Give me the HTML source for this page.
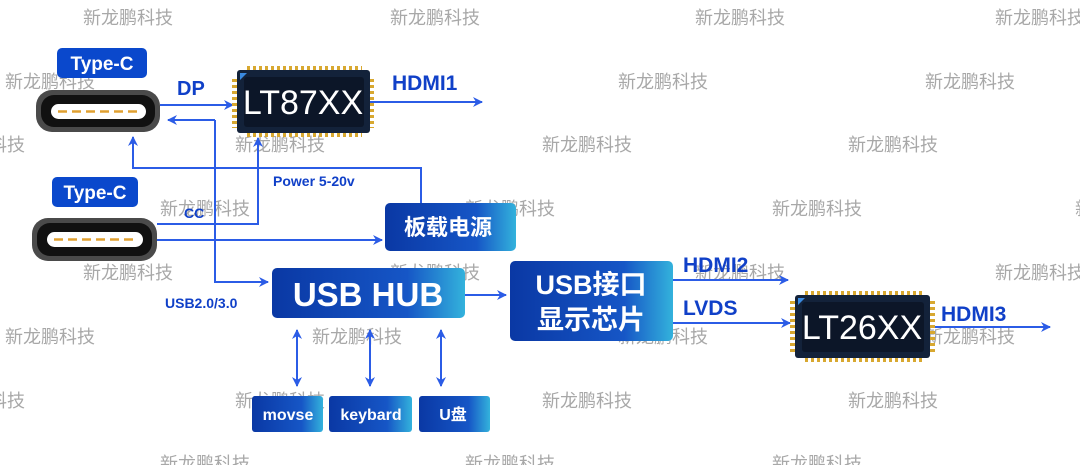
<!DOCTYPE html>
<html><head><meta charset="utf-8"><style>
html,body{margin:0;padding:0;background:#fff;}
svg{display:block;}
.wm{font-family:"Liberation Sans","Noto Sans CJK SC",sans-serif;font-size:18px;fill:#a8a8a8;text-anchor:middle;}
.bl{font-family:"Liberation Sans","Noto Sans CJK SC",sans-serif;font-weight:bold;fill:#1040c8;}
.wt{font-family:"Liberation Sans","Noto Sans CJK SC",sans-serif;font-weight:bold;fill:#fff;text-anchor:middle;}
</style></head><body>
<svg width="1080" height="465" viewBox="0 0 1080 465" xmlns="http://www.w3.org/2000/svg">
<defs>
<linearGradient id="g" x1="0" y1="0" x2="1" y2="0">
<stop offset="0" stop-color="#0a38a4"/><stop offset="0.7" stop-color="#1656c6"/><stop offset="1" stop-color="#33b2dc"/>
</linearGradient>
<marker id="a" markerWidth="10" markerHeight="10" refX="9" refY="5" orient="auto" markerUnits="userSpaceOnUse">
<path d="M0,0 L10,5 L0,10 L3,5 Z" fill="#2b5ce6"/></marker>
<marker id="as" markerWidth="10" markerHeight="10" refX="1" refY="5" orient="auto" markerUnits="userSpaceOnUse">
<path d="M10,0 L0,5 L10,10 L7,5 Z" fill="#2b5ce6"/></marker>
<pattern id="pins" width="6" height="6" patternUnits="userSpaceOnUse"><rect x="1" y="0" width="3" height="6" fill="#d8a830"/></pattern>
<pattern id="pinsv" width="6" height="6" patternUnits="userSpaceOnUse"><rect x="0" y="1" width="6" height="3" fill="#d8a830"/></pattern>
</defs>

<!-- watermarks -->
<g class="wm">
<text x="128" y="24">新龙鹏科技</text><text x="435" y="24">新龙鹏科技</text><text x="740" y="24">新龙鹏科技</text><text x="1040" y="24">新龙鹏科技</text>
<text x="50" y="88">新龙鹏科技</text><text x="663" y="88">新龙鹏科技</text><text x="970" y="88">新龙鹏科技</text>
<text x="-20" y="151">新龙鹏科技</text><text x="280" y="151">新龙鹏科技</text><text x="587" y="151">新龙鹏科技</text><text x="893" y="151">新龙鹏科技</text>
<text x="205" y="215">新龙鹏科技</text><text x="510" y="215">新龙鹏科技</text><text x="817" y="215">新龙鹏科技</text><text x="1120" y="215">新龙鹏科技</text>
<text x="128" y="279">新龙鹏科技</text><text x="435" y="279">新龙鹏科技</text><text x="740" y="279">新龙鹏科技</text><text x="1040" y="279">新龙鹏科技</text>
<text x="50" y="343">新龙鹏科技</text><text x="357" y="343">新龙鹏科技</text><text x="663" y="343">新龙鹏科技</text><text x="970" y="343">新龙鹏科技</text>
<text x="-20" y="407">新龙鹏科技</text><text x="280" y="407">新龙鹏科技</text><text x="587" y="407">新龙鹏科技</text><text x="893" y="407">新龙鹏科技</text>
<text x="205" y="470">新龙鹏科技</text><text x="510" y="470">新龙鹏科技</text><text x="817" y="470">新龙鹏科技</text>
</g>

<!-- connectors lines -->
<g stroke="#2b5ce6" stroke-width="2" fill="none">
<line x1="160" y1="105" x2="233" y2="105" marker-end="url(#a)"/>
<line x1="370" y1="102" x2="482" y2="102" marker-end="url(#a)"/>
<polyline points="215,120 215,282 268,282" marker-end="url(#a)"/>
<line x1="215" y1="120" x2="168" y2="120" marker-end="url(#a)"/>
<polyline points="421,203 421,168 133,168 133,137" marker-end="url(#a)"/>
<polyline points="157,224 258,224 258,138" marker-end="url(#a)"/>
<line x1="157" y1="240" x2="382" y2="240" marker-end="url(#a)"/>
<line x1="465" y1="295" x2="506" y2="295" marker-end="url(#a)"/>
<line x1="673" y1="280" x2="788" y2="280" marker-end="url(#a)"/>
<line x1="673" y1="323" x2="790" y2="323" marker-end="url(#a)"/>
<line x1="930" y1="327" x2="1050" y2="327" marker-end="url(#a)"/>
<line x1="297" y1="330" x2="297" y2="386" marker-start="url(#as)" marker-end="url(#a)"/>
<line x1="370" y1="330" x2="370" y2="386" marker-start="url(#as)" marker-end="url(#a)"/>
<line x1="441" y1="330" x2="441" y2="386" marker-start="url(#as)" marker-end="url(#a)"/>
</g>

<!-- Type-C labels -->
<rect x="57" y="48" width="90" height="30" rx="5" fill="#0a48cc"/>
<text class="wt" x="102" y="70" font-size="19">Type-C</text>
<rect x="52" y="177" width="86" height="30" rx="5" fill="#0a48cc"/>
<text class="wt" x="95" y="199" font-size="19">Type-C</text>

<!-- Connectors -->
<g>
<rect x="36" y="90" width="124" height="42" rx="16" fill="#4a4a4a"/>
<rect x="41" y="95" width="114" height="32" rx="13" fill="#111"/>
<rect x="51" y="104" width="95" height="15" rx="7.5" fill="#fff"/>
<line x1="58" y1="111.5" x2="140" y2="111.5" stroke="#e0a030" stroke-width="2.5" stroke-dasharray="9,5"/>
<rect x="32" y="218" width="125" height="43" rx="16" fill="#4a4a4a"/>
<rect x="37" y="223" width="115" height="33" rx="13" fill="#111"/>
<rect x="47" y="232" width="96" height="15" rx="7.5" fill="#fff"/>
<line x1="54" y1="239.5" x2="137" y2="239.5" stroke="#e0a030" stroke-width="2.5" stroke-dasharray="9,5"/>
</g>

<!-- LT87XX chip -->
<rect x="244" y="66" width="118" height="71" fill="url(#pins)"/>
<rect x="232" y="76" width="142" height="52" fill="url(#pinsv)"/>
<rect x="237" y="70" width="133" height="63" rx="3" fill="#13223a"/>
<rect x="244" y="77" width="120" height="50" rx="3" fill="#0c1628"/>
<path d="M240,73 L247,73 L240,80 Z" fill="#3a8ae0"/>
<text class="wt" x="303" y="114" font-size="34" font-weight="normal" style="font-weight:normal">LT87XX</text>

<!-- LT26XX chip -->
<rect x="803" y="291" width="119" height="71" fill="url(#pins)"/>
<rect x="790" y="301" width="145" height="52" fill="url(#pinsv)"/>
<rect x="795" y="295" width="135" height="63" rx="3" fill="#13223a"/>
<rect x="802" y="302" width="122" height="50" rx="3" fill="#0c1628"/>
<path d="M798,298 L805,298 L798,305 Z" fill="#3a8ae0"/>
<text class="wt" x="862" y="339" font-size="34" style="font-weight:normal">LT26XX</text>

<!-- Blue labels -->
<text class="bl" x="177" y="95" font-size="20">DP</text>
<text class="bl" x="392" y="90" font-size="21">HDMI1</text>
<text class="bl" x="273" y="186" font-size="14">Power 5-20v</text>
<text class="bl" x="184" y="218" font-size="14">CC</text>
<text class="bl" x="165" y="308" font-size="14">USB2.0/3.0</text>
<text class="bl" x="683" y="272" font-size="21">HDMI2</text>
<text class="bl" x="683" y="315" font-size="21">LVDS</text>
<text class="bl" x="941" y="321" font-size="21">HDMI3</text>

<!-- gradient boxes -->
<rect x="385" y="203" width="131" height="48" rx="5" fill="url(#g)"/>
<text class="wt" x="448" y="235" font-size="22">板载电源</text>
<rect x="272" y="268" width="193" height="50" rx="5" fill="url(#g)"/>
<text class="wt" x="368" y="306" font-size="33">USB HUB</text>
<rect x="510" y="261" width="163" height="80" rx="5" fill="url(#g)"/>
<text class="wt" x="591" y="294" font-size="27">USB接口</text>
<text class="wt" x="591" y="329" font-size="27">显示芯片</text>
<rect x="252" y="396" width="71" height="36" rx="3" fill="url(#g)"/>
<text class="wt" x="288" y="420" font-size="16">movse</text>
<rect x="329" y="396" width="83" height="36" rx="3" fill="url(#g)"/>
<text class="wt" x="371" y="420" font-size="16">keybard</text>
<rect x="419" y="396" width="71" height="36" rx="3" fill="url(#g)"/>
<text class="wt" x="453" y="420" font-size="16">U盘</text>
</svg>
</body></html>
